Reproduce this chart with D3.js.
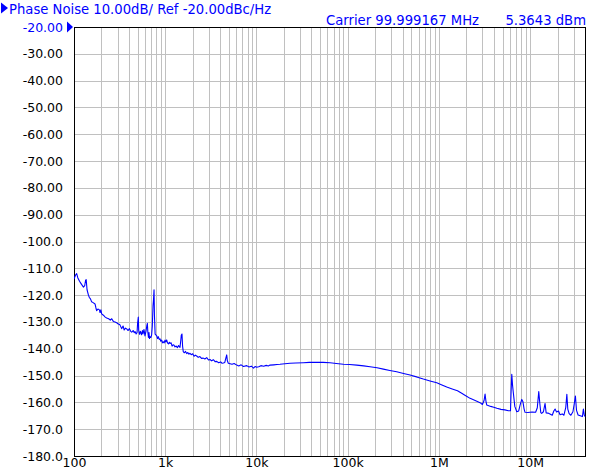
<!DOCTYPE html>
<html><head><meta charset="utf-8">
<script src="https://cdn.jsdelivr.net/npm/d3@7"></script>
<style>
html,body{margin:0;padding:0;background:#fff;}
svg{display:block;font-family:"DejaVu Sans",Verdana,sans-serif;}
</style></head>
<body>
<svg id="c" width="596" height="470"></svg>
<script>
// ---- data ----
const freqHz = [100,104,107,110,115,121,127,131,134,136,139,144,147,152,156,162,170,174,177,183,190,193,197,201,210,220,228,240,250,259,270,282,294,306,318,333,345,355,367,378,392,405,418,429,445,458,467,480,491,498,507,512,523,535,550,562,571,585,600,615,628,637,645,655,664,672,681,695,710,722,735,745,754,762,775,790,807,825,840,860,877,895,915,935,953,975,995,1015,1038,1060,1085,1110,1129,1160,1190,1220,1250,1280,1320,1360,1400,1430,1452,1480,1500,1527,1550,1578,1620,1670,1720,1770,1820,1870,1930,2000,2070,2140,2214,2300,2400,2500,2616,2720,2850,2980,3098,3230,3370,3520,3670,3850,4050,4200,4337,4500,4620,4722,4800,4917,5150,5400,5700,6079,6400,6800,7200,7829,8300,8800,9300,9700,10070,10600,11200,12000,12800,13500,14090,15500,16800,18150,20500,23350,27000,32670,38000,45810,54000,64120,75000,89730,105000,125800,150000,176100,210000,246300,290000,345000,410000,483000,570000,676000,800000,948000,1.08e6,1.22e6,1.4e6,1.6e6,1.78e6,1.95e6,2.2e6,2.5e6,2.83e6,3.0e6,3.13e6,3.21e6,3.28e6,3.35e6,3.7e6,4.0e6,4.32e6,4.8e6,5.3e6,5.78e6,6.1e6,6.19e6,6.30e6,6.42e6,6.56e6,6.8e6,7.15e6,7.5e6,7.77e6,8.11e6,8.35e6,8.6e6,8.81e6,9.5e6,10.5e6,11.5e6,12.0e6,12.45e6,12.8e6,13.1e6,13.4e6,14.0e6,14.6e6,15.0e6,15.7e6,16.5e6,17.5e6,18.2e6,18.8e6,19.5e6,20.5e6,21.3e6,22.5e6,23.5e6,24.6e6,25.3e6,25.9e6,26.8e6,28e6,29.5e6,30.5e6,31.4e6,32.3e6,33.6e6,35.5e6,37.5e6,38.4e6,39.2e6,40e6];
const phaseNoise = [-114,-112.5,-112,-113.5,-114.8,-116,-117,-116.5,-114.5,-114.2,-118,-120,-120.8,-121.5,-122.5,-122.8,-123.3,-124.8,-125.8,-125.2,-125.5,-126.5,-125.5,-127,-127.5,-128.2,-128.5,-128.8,-129.3,-128.8,-129.8,-130,-130.3,-130.8,-131,-132.5,-131.5,-133,-132.3,-132.6,-133.2,-132.5,-133.5,-133.8,-133.2,-134,-133.6,-134.5,-134,-130.5,-128.2,-133,-134.6,-133.5,-134.8,-133.2,-134.5,-132.8,-135.2,-133.5,-131.5,-130.5,-133.8,-135.8,-134,-136.2,-135.5,-135.8,-134.8,-131.5,-124,-121.5,-118,-127.5,-134.5,-134.8,-135.2,-136.2,-135.5,-136.5,-136.3,-137.2,-136.8,-137.8,-137.4,-137.8,-136.8,-137.5,-136.7,-137.8,-138.2,-137.6,-138,-137.8,-139,-138.5,-138.7,-139.3,-139,-139.6,-138.8,-139.2,-139.5,-137,-135,-134.5,-139,-141.1,-141.5,-141,-141.8,-141.4,-142,-141.7,-142.2,-141.9,-142.8,-142.4,-142.7,-143.2,-142.9,-143.6,-143.5,-143.8,-143.3,-144.2,-144,-144.5,-144.1,-144.8,-144.7,-145.2,-144.9,-145.4,-145.3,-145.1,-143.5,-142.3,-144.5,-145.4,-145.6,-145.8,-145.5,-146.1,-146.4,-146,-146.6,-146.3,-146.8,-146.5,-147.2,-146.6,-146.9,-146.7,-146.3,-146.5,-146.2,-146.4,-146.1,-146,-145.9,-145.8,-145.6,-145.4,-145.3,-145.2,-145.1,-145.1,-145.1,-145.2,-145.5,-145.8,-145.9,-146.1,-146.4,-146.7,-147.1,-147.6,-148.1,-148.6,-149.2,-149.8,-150.5,-151.3,-152,-152.7,-153.5,-154.3,-155,-155.7,-156.6,-157.4,-158.5,-159.3,-160.1,-160.8,-159.3,-156.9,-159.5,-161,-161.5,-161.8,-162.2,-162.6,-162.8,-163.1,-163.1,-156,-149.5,-153.5,-156.6,-161.5,-163.5,-163.2,-161,-158.9,-159.8,-162.5,-163.7,-163.8,-163.6,-163.7,-162,-156,-160.5,-163.8,-164.1,-163.5,-160.4,-163.9,-164,-164.3,-164.8,-163.2,-162.5,-163.6,-163.2,-164.6,-164.3,-164.8,-162,-157,-162.5,-164.2,-164.8,-163.5,-160.5,-157.6,-163,-164.7,-165,-165.3,-162.5,-164.5,-165.3];
const xLabelValues = [1e2,1e3,1e4,1e5,1e6,1e7];
const xLabels = ["100","1k","10k","100k","1M","10M"];
const yTickValues = [-20,-30,-40,-50,-60,-70,-80,-90,-100,-110,-120,-130,-140,-150,-160,-170,-180];
const yLabels = ["-20.00","-30.00","-40.00","-50.00","-60.00","-70.00","-80.00","-90.00","-100.0","-110.0","-120.0","-130.0","-140.0","-150.0","-160.0","-170.0","-180.0"];
const headerLeft = "Phase Noise 10.00dB/ Ref -20.00dBc/Hz";
const carrierText = "Carrier 99.999167 MHz";
const powerText = "5.3643 dBm";

// ---- layout ----
const L = 74, R = 585, T = 27, B = 456;
const FS = 12.5, HFS = 13.2;
const FONT = "DejaVu Sans, Verdana, sans-serif";
const blue = "#0000ff";
const svg = d3.select("#c");

const x = d3.scaleLog().domain([100, 40e6]).range([L, R]);
const y = d3.scaleLinear().domain([-180, -20]).range([B, T]);

// minor grid values
const gridX = [];
for (let e = 2; e <= 7; e++) for (let m = 1; m <= 9; m++) { const v = m * Math.pow(10, e); if (v >= 100 && v <= 40e6) gridX.push(v); }

// vertical grid
const gx = svg.append("g").attr("transform", `translate(0,${B})`)
  .call(d3.axisBottom(x).tickValues(gridX).tickSize(-(B - T)).tickFormat(""));
gx.select(".domain").remove();
gx.selectAll(".tick line").attr("stroke", "#c0c0c0").attr("shape-rendering", "crispEdges");

// x labels
const xl = svg.append("g").attr("transform", `translate(0,${B})`)
  .call(d3.axisBottom(x).tickValues(xLabelValues).tickSize(0).tickPadding(2).tickFormat((d, i) => xLabels[i]));
xl.select(".domain").remove();
xl.selectAll("text").attr("font-size", FS).attr("font-family", FONT).attr("fill", "#000").attr("dy", "0.71em");

// horizontal grid + y labels
const gy = svg.append("g").attr("transform", `translate(${L},0)`)
  .call(d3.axisLeft(y).tickValues(yTickValues).tickSize(-(R - L)).tickPadding(11).tickFormat((d, i) => yLabels[i]));
gy.select(".domain").remove();
gy.selectAll(".tick line").attr("stroke", "#c0c0c0").attr("shape-rendering", "crispEdges");
gy.selectAll("text").attr("font-size", FS).attr("font-family", FONT)
  .attr("fill", (d) => d === -20 ? blue : "#000");

// frame
svg.append("rect").attr("x", L + 0.5).attr("y", T + 0.5).attr("width", R - L).attr("height", B - T)
  .attr("fill", "none").attr("stroke", "#000").attr("stroke-width", 1).attr("shape-rendering", "crispEdges");

// trace
svg.append("clipPath").attr("id", "clip").append("rect").attr("x", L).attr("y", T).attr("width", R - L + 1).attr("height", B - T);
const pts = freqHz.map((f, i) => [f, phaseNoise[i]]);
svg.append("path").datum(pts).attr("clip-path", "url(#clip)")
  .attr("fill", "none").attr("stroke", blue).attr("stroke-width", 1.1).attr("stroke-linejoin", "round")
  .attr("d", d3.line().x(d => x(d[0])).y(d => y(d[1])));

// reference marker
svg.append("path").attr("d", `M67,${y(-20) - 5.5}L73,${y(-20)}L67,${y(-20) + 5.5}Z`).attr("fill", blue);

// header
svg.append("path").attr("d", "M1,2.5L8,8L1,13.5Z").attr("fill", blue);
svg.append("text").attr("x", 9).attr("y", 13.5).attr("font-size", HFS).attr("font-family", FONT).attr("fill", blue).text(headerLeft);
svg.append("text").attr("x", 479).attr("y", 24.5).attr("font-size", HFS).attr("font-family", FONT).attr("fill", blue).attr("text-anchor", "end").text(carrierText);
svg.append("text").attr("x", 586).attr("y", 24.5).attr("font-size", HFS).attr("font-family", FONT).attr("fill", blue).attr("text-anchor", "end").text(powerText);
</script>
</body></html>
